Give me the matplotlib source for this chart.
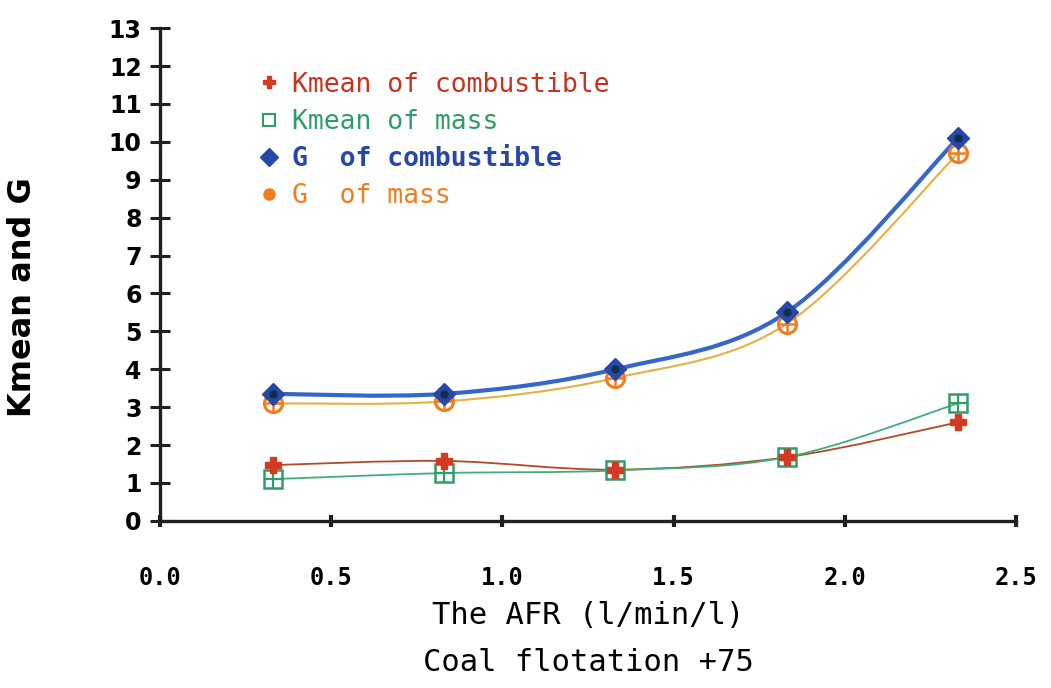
import matplotlib
matplotlib.use("Agg")
import matplotlib.pyplot as plt
from matplotlib.path import Path
from matplotlib.patches import PathPatch
from matplotlib.lines import Line2D

# data
afr = [0.33, 0.83, 1.33, 1.83, 2.33]
kmean_comb = [1.47, 1.58, 1.35, 1.68, 2.60]
kmean_mass = [1.10, 1.26, 1.33, 1.68, 3.10]
g_comb = [3.35, 3.35, 4.00, 5.50, 10.10]
g_mass = [3.10, 3.15, 3.77, 5.20, 9.70]

x_ticks = [0.0, 0.5, 1.0, 1.5, 2.0, 2.5]
x_labels = ["0.0", "0.5", "1.0", "1.5", "2.0", "2.5"]
y_ticks = list(range(0, 14))

MONO = "DejaVu Sans Mono"


def smooth_path(xs, ys):
    # Catmull-Rom through the points, drawn as cubic Bezier segments
    verts = [(xs[0], ys[0])]
    codes = [Path.MOVETO]
    n = len(xs)
    for i in range(n - 1):
        x0, y0 = (xs[i - 1], ys[i - 1]) if i > 0 else (xs[i], ys[i])
        x1, y1 = xs[i], ys[i]
        x2, y2 = xs[i + 1], ys[i + 1]
        x3, y3 = (xs[i + 2], ys[i + 2]) if i + 2 < n else (x2, y2)
        c1 = (x1 + (x2 - x0) / 6, y1 + (y2 - y0) / 6)
        c2 = (x2 - (x3 - x1) / 6, y2 - (y3 - y1) / 6)
        verts += [c1, c2, (x2, y2)]
        codes += [Path.CURVE4] * 3
    return Path(verts, codes)


fig = plt.figure(figsize=(10.51, 6.88), dpi=100)
ax = fig.add_axes([0.152, 0.243, 0.815, 0.716])
ax.set_xlim(0, 2.5)
ax.set_ylim(0, 13)

series = [
    (kmean_comb, "#b4482c", 1.3, "Kmean of combustible", "#c8321e"),
    (kmean_mass, "#3fae7a", 1.3, "Kmean of mass", "#2e9e68"),
    (g_comb, "#3566c8", 3.0, "G  of combustible", "#2848a8"),
    (g_mass, "#e8b040", 1.5, "G  of mass", "#f07d1e"),
]
for vals, lc, lw, _, _ in series:
    ax.add_patch(PathPatch(smooth_path(afr, vals), facecolor="none",
                           edgecolor=lc, lw=lw, zorder=2))

# markers
ax.plot(afr, kmean_comb, ls="none", marker="P", ms=11, color="#d43a22", zorder=4)
ax.plot(afr, kmean_mass, ls="none", marker="s", ms=13, mfc="none",
        mec="#2e9e68", mew=1.8, zorder=3)
ax.plot(afr, kmean_mass, ls="none", marker="+", ms=13, color="#2e9e68",
        mew=1.6, zorder=3)
ax.plot(afr, g_mass, ls="none", marker="o", ms=13, mfc="none",
        mec="#f07d1e", mew=2.2, zorder=3)
ax.plot(afr, g_mass, ls="none", marker="+", ms=12, color="#f07d1e",
        mew=1.8, zorder=3)
ax.plot(afr, g_comb, ls="none", marker="D", ms=11, color="#2848a8", zorder=4)
ax.plot(afr, g_comb, ls="none", marker="o", ms=5, color="#10304a", zorder=5)

# axes styling
for side in ["top", "right"]:
    ax.spines[side].set_visible(False)
for side in ["left", "bottom"]:
    ax.spines[side].set_linewidth(2.4)
    ax.spines[side].set_color("#202020")

ax.set_yticks(y_ticks)
ax.set_yticklabels([str(v) for v in y_ticks], fontsize=17, fontweight="bold",
                   family="DejaVu Sans")
ax.tick_params(axis="y", direction="inout", length=14, width=2.2,
               color="#202020", pad=6)
ax.set_xticks(x_ticks)
ax.set_xticklabels(x_labels, fontsize=17, fontweight="bold", family=MONO)
ax.tick_params(axis="x", direction="inout", length=9, width=3,
               color="#202020", pad=28)

ax.set_xlabel("The AFR (l/min/l)\nCoal flotation +75", fontsize=22,
              family=MONO, linespacing=1.8, labelpad=8)
ax.set_ylabel("Kmean and G", fontsize=23, fontweight="bold",
              family="DejaVu Sans")
ax.yaxis.set_label_coords(-0.142, 0.455)

# legend: marker only, coloured text
handles = [
    Line2D([], [], ls="none", marker="P", ms=8, color="#d43a22"),
    Line2D([], [], ls="none", marker="s", ms=8, mfc="none", mec="#2e9e68", mew=1.5),
    Line2D([], [], ls="none", marker="D", ms=9, color="#2848a8"),
    Line2D([], [], ls="none", marker="o", ms=8, color="#f07d1e"),
]
leg = ax.legend(handles, [s[3] for s in series], loc="upper left",
                bbox_to_anchor=(0.09, 0.96), frameon=False,
                prop={"family": MONO, "size": 19}, handlelength=0.6,
                handletextpad=0.6, labelspacing=0.42)
for txt, s in zip(leg.get_texts(), series):
    txt.set_color(s[4])
leg.get_texts()[2].set_fontweight("bold")

fig.savefig("out.png", dpi=100)
